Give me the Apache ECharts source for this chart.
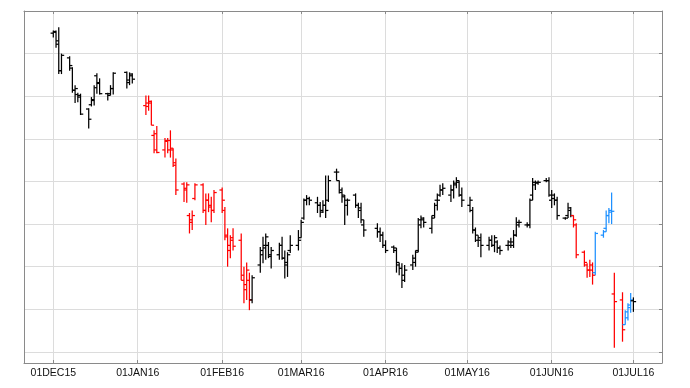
<!DOCTYPE html>
<html><head><meta charset="utf-8">
<script src="https://cdn.jsdelivr.net/npm/echarts@6/dist/echarts.min.js"></script>
<style>html,body{margin:0;padding:0;background:#fff}#c{width:690px;height:388px}</style>
</head><body><div id="c"></div>
<script>
const dates = [
'2015-12-01','2015-12-02','2015-12-03','2015-12-04','2015-12-07','2015-12-08','2015-12-09','2015-12-10','2015-12-11','2015-12-14','2015-12-15','2015-12-16','2015-12-17','2015-12-18','2015-12-21','2015-12-22','2015-12-23','2015-12-28','2015-12-29','2015-12-30',
'2016-01-04','2016-01-05','2016-01-06','2016-01-07','2016-01-08','2016-01-11','2016-01-12','2016-01-13','2016-01-14','2016-01-15','2016-01-18','2016-01-19','2016-01-20','2016-01-21','2016-01-22','2016-01-25','2016-01-26','2016-01-27','2016-01-28','2016-01-29',
'2016-02-01','2016-02-02','2016-02-03','2016-02-04','2016-02-05','2016-02-08','2016-02-09','2016-02-10','2016-02-11','2016-02-12','2016-02-15','2016-02-16','2016-02-17','2016-02-18','2016-02-19','2016-02-22','2016-02-23','2016-02-24','2016-02-25','2016-02-26','2016-02-29',
'2016-03-01','2016-03-02','2016-03-03','2016-03-04','2016-03-07','2016-03-08','2016-03-09','2016-03-10','2016-03-11','2016-03-14','2016-03-15','2016-03-16','2016-03-17','2016-03-18','2016-03-21','2016-03-22','2016-03-23','2016-03-24','2016-03-29','2016-03-30','2016-03-31',
'2016-04-01','2016-04-04','2016-04-05','2016-04-06','2016-04-07','2016-04-08','2016-04-11','2016-04-12','2016-04-13','2016-04-14','2016-04-15','2016-04-18','2016-04-19','2016-04-20','2016-04-21','2016-04-22','2016-04-25','2016-04-26','2016-04-27','2016-04-28','2016-04-29',
'2016-05-02','2016-05-03','2016-05-04','2016-05-05','2016-05-06','2016-05-09','2016-05-10','2016-05-11','2016-05-12','2016-05-13','2016-05-16','2016-05-17','2016-05-18','2016-05-19','2016-05-20','2016-05-23','2016-05-24','2016-05-25','2016-05-26','2016-05-27','2016-05-30','2016-05-31',
'2016-06-01','2016-06-02','2016-06-03','2016-06-06','2016-06-07','2016-06-08','2016-06-09','2016-06-10','2016-06-13','2016-06-14','2016-06-15','2016-06-16','2016-06-17','2016-06-20','2016-06-21','2016-06-22','2016-06-23','2016-06-24','2016-06-27','2016-06-28','2016-06-29','2016-06-30',
'2016-07-01'];

const opens = [
1074,1075,1065,1030,1045,1033,1007,1002,1001,985,990,995,1024,1016,1003,1003,1009,1028,1016,1024,
989,992,992,954,956,937,947,948,937,922,897,892,860,852,880,896,866,878,872,866,
890,866,837,825,834,831,784,779,784,761,802,814,822,825,812,814,825,810,802,819,825,
834,857,878,880,875,872,866,872,878,911,901,887,882,872,884,872,869,849,845,841,837,
825,823,819,802,798,790,802,805,819,849,855,845,860,878,884,890,884,890,898,899,884,
872,866,843,831,831,825,831,825,829,822,825,825,825,837,849,849,849,884,896,899,901,901,
878,880,878,857,860,866,860,849,817,802,796,796,793,837,845,860,864,768,761,732,740,752,
760];
const highs = [
1077,1077,1081,1050,1047,1034,1013,1004,1003,986,999,1013,1027,1021,1004,1013,1028,1029,1028,1027,
1001,1001,995,960,965,951,951,960,939,927,899,899,863,866,898,898,886,886,882,890,
893,870,845,837,845,839,800,805,793,790,823,835,839,829,823,828,835,819,817,837,843,
855,880,884,882,882,876,878,907,907,915,901,893,884,880,886,875,875,855,851,846,841,
831,825,822,805,804,802,814,819,857,860,858,860,875,886,896,898,896,901,905,901,893,
882,870,846,837,839,835,837,837,831,825,831,834,843,858,855,852,880,904,901,901,904,905,
890,886,882,858,875,870,860,851,819,804,808,805,841,843,866,869,887,793,770,749,757,769,
764];
const lows = [
1069,1057,1026,1026,1030,1004,992,993,978,962,988,989,1003,1002,995,1001,1002,1009,1013,1015,
978,983,966,933,933,928,933,928,917,884,876,875,839,843,878,863,849,864,852,863,
863,831,800,810,819,784,757,761,749,757,793,804,808,810,798,808,808,786,788,816,819,
834,855,872,872,863,858,863,857,876,901,886,875,849,860,869,857,851,835,834,829,822,
816,816,793,790,775,782,796,800,817,845,846,839,857,866,882,884,876,880,892,882,870,
864,839,829,823,811,819,823,817,816,814,819,822,822,835,846,846,845,878,890,896,899,882,
869,872,855,855,857,858,846,810,800,787,788,779,790,834,841,851,850,705,712,732,737,746,
747];
const closes = [
1076,1061,1030,1048,1036,1007,1009,999,979,973,996,1010,1015,1003,1001,1009,1027,1019,1026,1020,
988,994,966,937,934,948,937,939,919,890,890,896,855,860,896,866,878,870,866,887,
878,835,819,831,824,790,773,796,761,787,819,825,835,814,819,825,810,805,814,825,831,
852,878,880,878,872,864,872,866,901,911,890,884,878,878,872,866,855,843,841,837,825,
819,822,805,798,784,796,810,817,855,857,852,857,872,878,890,892,890,896,901,884,878,
878,843,837,834,825,831,825,834,822,819,829,829,837,852,852,849,878,899,898,899,901,884,
884,878,860,857,869,860,855,814,805,796,802,790,839,841,860,866,865,759,726,747,755,761,
759];
// trend state per bar: -1 falling (red), 0 neutral (black), 1 rising (blue)
const trend = [
0,0,0,0,0,0,0,0,0,0,0,0,0,0,0,0,0,0,0,0,
-1,-1,-1,-1,-1,-1,-1,-1,-1,-1,-1,-1,-1,-1,-1,-1,-1,-1,-1,-1,
-1,-1,-1,-1,-1,-1,-1,-1,-1,0,0,0,0,0,0,0,0,0,0,0,0,
0,0,0,0,0,0,0,0,0,0,0,0,0,0,0,0,0,0,0,0,0,
0,0,0,0,0,0,0,0,0,0,0,0,0,0,0,0,0,0,0,0,0,
0,0,0,0,0,0,0,0,0,0,0,0,0,0,0,0,0,0,0,0,0,0,
0,0,0,0,0,0,-1,-1,-1,-1,-1,-1,1,1,1,1,1,-1,-1,1,1,1,
0];

const monthTicks = ['2015-12-01','2016-01-01','2016-02-01','2016-03-01','2016-04-01','2016-05-01','2016-06-01','2016-07-01'];
const tickLabels = ['01DEC15','01JAN16','01FEB16','01MAR16','01APR16','01MAY16','01JUN16','01JUL16'];
const priceGrid = [700,750,800,850,900,950,1000,1050];

const DAY = 864e5;
const base = Date.UTC(2015, 11, 1);
function dayIndex(s) { const p = s.split('-'); return Math.round((Date.UTC(+p[0], +p[1] - 1, +p[2]) - base) / DAY); }
const tickDays = monthTicks.map(dayIndex);
const trendColor = { '-1': '#ff0000', '0': '#000000', '1': '#1e90ff' };
const data = dates.map((d, i) => [dayIndex(d), opens[i], highs[i], lows[i], closes[i], trend[i]]);

function renderItem(params, api) {
  const x = api.value(0);
  const pH = api.coord([x, api.value(2)]);
  const pL = api.coord([x, api.value(3)]);
  const pO = api.coord([x, api.value(1)]);
  const pC = api.coord([x, api.value(4)]);
  const w = api.size([1, 0])[0];
  const col = trendColor[String(api.value(5))];
  const st = { stroke: col, lineWidth: 1.25 };
  return { type: 'group', children: [
    { type: 'line', shape: { x1: pH[0], y1: pH[1], x2: pL[0], y2: pL[1] }, style: st },
    { type: 'line', shape: { x1: pO[0] - w, y1: pO[1], x2: pO[0], y2: pO[1] }, style: st },
    { type: 'line', shape: { x1: pC[0], y1: pC[1], x2: pC[0] + w, y2: pC[1] }, style: st }
  ]};
}

const frame = '#8a8a8a';
const chart = echarts.init(document.getElementById('c'), null, { renderer: 'canvas' });
chart.setOption({
  animation: false,
  grid: { left: 24, right: 28, top: 11, bottom: 25, containLabel: false },
  xAxis: [{
    type: 'value', min: -10.76, max: 223.5, position: 'bottom',
    axisLine: { show: true, onZero: false, lineStyle: { color: frame, width: 1 } },
    axisTick: { show: true, inside: true, length: 3, customValues: tickDays, lineStyle: { color: frame } },
    axisLabel: { show: true, customValues: tickDays, margin: 5, fontSize: 10.5, color: '#111', fontFamily: 'Liberation Sans, Arial, sans-serif',
      formatter: v => tickLabels[tickDays.indexOf(Math.round(v))] || '' },
    splitLine: { show: true, lineStyle: { color: '#dcdcdc', width: 1 } }
  }, {
    type: 'value', min: -10.76, max: 223.5, position: 'top',
    axisLine: { show: true, onZero: false, lineStyle: { color: frame, width: 1 } },
    axisTick: { show: true, inside: true, length: 3, customValues: tickDays, lineStyle: { color: frame } },
    axisLabel: { show: false },
    splitLine: { show: false }
  }],
  yAxis: [{
    type: 'value', min: 687, max: 1100, position: 'left',
    axisLine: { show: true, onZero: false, lineStyle: { color: frame, width: 1 } },
    axisTick: { show: false, customValues: priceGrid },
    axisLabel: { show: false, customValues: priceGrid },
    splitLine: { show: true, lineStyle: { color: '#dcdcdc', width: 1 } }
  }, {
    type: 'value', min: 687, max: 1100, position: 'right',
    axisLine: { show: true, onZero: false, lineStyle: { color: frame, width: 1 } },
    axisTick: { show: true, inside: true, length: 3, customValues: priceGrid, lineStyle: { color: frame } },
    axisLabel: { show: false },
    splitLine: { show: false }
  }],
  series: [{
    type: 'custom', renderItem: renderItem, data: data,
    encode: { x: 0, y: [1, 2, 3, 4] }, xAxisIndex: 0, yAxisIndex: 0, silent: true, clip: false
  }]
});
</script></body></html>
